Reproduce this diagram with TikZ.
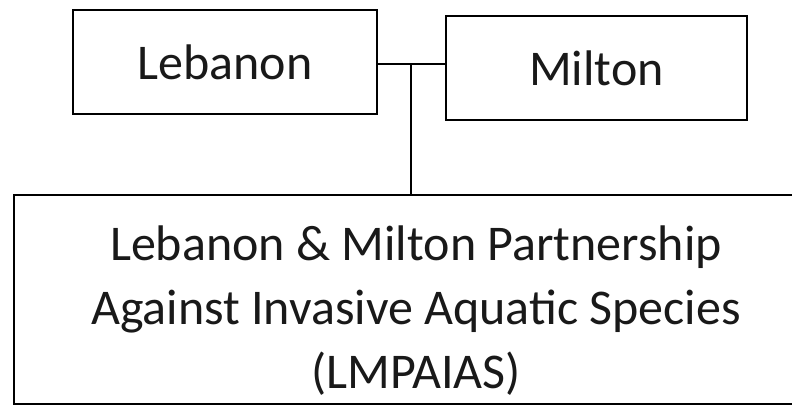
\documentclass[tikz,border=0pt]{standalone}
\usepackage{fontspec}
\setmainfont{Carlito}
\begin{document}
\begin{tikzpicture}[x=1pt,y=-1pt,
  boxline/.style={draw=black,line width=1.5pt},
  label/.style={font=\fontsize{50}{64}\selectfont,text=black!90}]
\useasboundingbox (0,0) rectangle (792,408);
\clip (0,0) rectangle (792,408);
\node[boxline,minimum width=304pt,minimum height=104pt,inner sep=0pt,label] (leb) at (225,62) {Lebanon};
\node[boxline,minimum width=301pt,minimum height=104pt,inner sep=0pt,label] (mil) at (596.5,68) {Milton};
\node[boxline,anchor=north west,minimum width=820pt,minimum height=209pt,inner sep=0pt] (lmp) at (13,194) {};
\node[label,align=center] (lmptext) at (416,311) {Lebanon \& Milton Partnership\\Against Invasive Aquatic Species\\(LMPAIAS)};
\coordinate (j) at (411,64);
\draw[line width=1.5pt] (leb.east |- j) -- (j) -- (mil.west |- j);
\draw[line width=1.5pt] (j) -- (j |- lmp.north);
\end{tikzpicture}
\end{document}
